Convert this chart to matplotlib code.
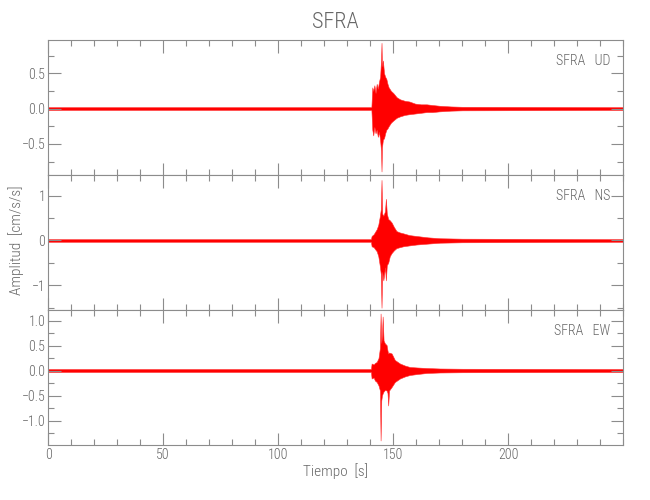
import matplotlib
matplotlib.use('Agg')
import matplotlib.pyplot as plt
from matplotlib.ticker import MultipleLocator

plt.rcParams['font.family'] = ['Roboto Condensed', 'Liberation Sans Narrow', 'Roboto', 'DejaVu Sans']
plt.rcParams['font.weight'] = 'light'

# envelope of each trace: time [s], upper, lower [cm/s/s]
t_ud = [0, 140.5, 140.9, 141.3, 141.8, 142.3, 142.8, 143.3, 143.8, 144.3, 144.7, 144.9, 145.1,
        145.5, 146.0, 146.5, 147.0, 147.5, 148.0, 149.0, 150.0, 151.5, 153.0, 155.0, 157.0,
        159.5, 162.0, 164.5, 167.0, 170.0, 175.0, 180.0, 250]
up_ud = [0.02, 0.02, 0.30, 0.25, 0.33, 0.22, 0.35, 0.28, 0.38, 0.45, 0.70, 0.93, 0.60,
         0.68, 0.50, 0.45, 0.42, 0.35, 0.30, 0.25, 0.22, 0.16, 0.13, 0.11, 0.10,
         0.07, 0.06, 0.06, 0.05, 0.04, 0.03, 0.025, 0.02]
lo_ud = [-0.02, -0.02, -0.30, -0.38, -0.26, -0.35, -0.30, -0.40, -0.33, -0.45, -0.60, -0.89, -0.55,
         -0.44, -0.42, -0.35, -0.30, -0.28, -0.25, -0.20, -0.17, -0.13, -0.11, -0.09, -0.08,
         -0.07, -0.06, -0.05, -0.05, -0.04, -0.03, -0.025, -0.02]

t_ns = [0, 140.3, 140.6, 141.5, 142.2, 142.8, 143.5, 144.2, 144.6, 144.9, 145.2, 145.7, 146.4,
        146.8, 147.2, 147.8, 148.5, 149.3, 150.3, 151.4, 152.8, 154.3, 157.0, 160.1, 165.0,
        170.2, 180.0, 250]
up_ns = [0.03, 0.03, 0.10, 0.14, 0.20, 0.25, 0.35, 0.55, 0.70, 1.35, 0.60, 0.55, 0.65,
         0.93, 0.60, 0.48, 0.45, 0.40, 0.30, 0.21, 0.18, 0.16, 0.12, 0.10, 0.07,
         0.05, 0.04, 0.03]
lo_ns = [-0.03, -0.03, -0.13, -0.15, -0.20, -0.24, -0.35, -0.58, -0.75, -1.50, -0.70, -0.89, -0.60,
         -0.89, -0.55, -0.50, -0.35, -0.28, -0.22, -0.17, -0.15, -0.13, -0.11, -0.09, -0.07,
         -0.05, -0.04, -0.03]

t_ew = [0, 140.3, 140.6, 141.5, 142.0, 142.8, 143.6, 144.2, 144.5, 144.8, 145.1, 145.4, 145.8,
        146.4, 147.1, 147.5, 147.8, 148.2, 149.3, 150.7, 152.9, 155.0, 157.2, 160.5, 164.5,
        170.2, 180.0, 250]
up_ew = [0.03, 0.03, 0.14, 0.12, 0.15, 0.17, 0.25, 0.45, 1.14, 0.55, 0.70, 1.08, 0.60,
         0.54, 0.51, 0.40, 0.34, 0.36, 0.34, 0.21, 0.14, 0.10, 0.07, 0.06, 0.05,
         0.04, 0.035, 0.03]
lo_ew = [-0.03, -0.03, -0.16, -0.14, -0.20, -0.23, -0.30, -0.40, -1.40, -0.60, -0.50, -0.46, -0.42,
         -0.39, -0.40, -0.45, -0.70, -0.40, -0.33, -0.23, -0.16, -0.12, -0.09, -0.07, -0.05,
         -0.04, -0.035, -0.03]

comps = ['UD', 'NS', 'EW']
ylims = [(-0.94, 0.97), (-1.55, 1.46), (-1.49, 1.21)]
majors = [0.5, 1.0, 0.5]
minors = [0.25, 0.5, 0.25]
xticks = [0, 50, 100, 150, 200]

grey = '#8c8c8c'
txt = '#666666'

fig, axes = plt.subplots(3, 1, figsize=(6.5, 5), dpi=100, sharex=True)
fig.subplots_adjust(left=0.074, right=0.959, top=0.92, bottom=0.11, hspace=0)

traces = [(t_ud, up_ud, lo_ud), (t_ns, up_ns, lo_ns), (t_ew, up_ew, lo_ew)]
for ax, (t, up, lo), comp, yl, mj, mn in zip(axes, traces, comps, ylims, majors, minors):
    ax.fill_between(t, lo, up, color='#ff0000', linewidth=0.4, edgecolor='#ff3030')
    ax.set_xlim(0, 250)
    ax.set_ylim(*yl)
    ax.yaxis.set_major_locator(MultipleLocator(mj))
    ax.yaxis.set_minor_locator(MultipleLocator(mn))
    ax.set_xticks(xticks)
    ax.xaxis.set_minor_locator(MultipleLocator(10))
    ax.tick_params(which='both', direction='in', top=True, right=True, colors=grey,
                   labelcolor=txt, labelsize=10, width=0.8, pad=2)
    ax.tick_params(which='major', length=9)
    ax.tick_params(which='minor', length=4.5)
    for s in ax.spines.values():
        s.set_color(grey)
        s.set_linewidth(0.8)
    ax.text(0.977, 0.845, 'SFRA   ' + comp, transform=ax.transAxes, ha='right', va='center',
            fontsize=10, color=txt)

fig.text(0.516, 0.955, 'SFRA', ha='center', va='center', fontsize=16, color=txt)
fig.text(0.516, 0.058, 'Tiempo  [s]', ha='center', va='center', fontsize=11, color=txt)
fig.text(0.024, 0.52, 'Amplitud  [cm/s/s]', ha='center', va='center', rotation=90,
         fontsize=11, color=txt)

fig.savefig('out.png', dpi=100)
